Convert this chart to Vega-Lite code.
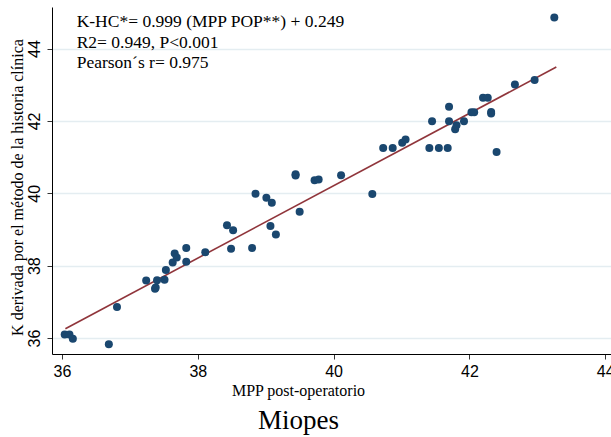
{
  "$schema": "https://vega.github.io/schema/vega-lite/v6.json",
  "width": 559,
  "height": 347,
  "autosize": {"type": "none"},
  "padding": {"left": 52, "top": 7, "right": 0, "bottom": 83},
  "background": "white",
  "title": {"text": "Miopes", "orient": "bottom", "font": "Liberation Serif", "fontSize": 27, "fontWeight": "normal", "color": "#000000", "anchor": "middle", "dx": -33, "offset": 10},
  "config": {"view": {"stroke": null}},
  "datasets": {
    "points": [
      {"mpp": 36.04, "k": 36.10}, {"mpp": 36.11, "k": 36.10}, {"mpp": 36.16, "k": 35.98},
      {"mpp": 36.69, "k": 35.83}, {"mpp": 36.81, "k": 36.86}, {"mpp": 37.24, "k": 37.59},
      {"mpp": 37.37, "k": 37.36}, {"mpp": 37.38, "k": 37.40}, {"mpp": 37.40, "k": 37.60},
      {"mpp": 37.51, "k": 37.61}, {"mpp": 37.53, "k": 37.88}, {"mpp": 37.63, "k": 38.09},
      {"mpp": 37.66, "k": 38.34}, {"mpp": 37.69, "k": 38.23}, {"mpp": 37.83, "k": 38.11},
      {"mpp": 37.83, "k": 38.49}, {"mpp": 38.11, "k": 38.37}, {"mpp": 38.43, "k": 39.12},
      {"mpp": 38.52, "k": 38.98}, {"mpp": 38.49, "k": 38.47}, {"mpp": 38.80, "k": 38.49},
      {"mpp": 38.85, "k": 39.99}, {"mpp": 39.01, "k": 39.88}, {"mpp": 39.09, "k": 39.74},
      {"mpp": 39.07, "k": 39.10}, {"mpp": 39.15, "k": 38.86}, {"mpp": 39.44, "k": 40.49},
      {"mpp": 39.44, "k": 40.53}, {"mpp": 39.50, "k": 39.49}, {"mpp": 39.72, "k": 40.36},
      {"mpp": 39.78, "k": 40.38}, {"mpp": 40.11, "k": 40.50}, {"mpp": 40.57, "k": 39.98},
      {"mpp": 40.73, "k": 41.25}, {"mpp": 40.87, "k": 41.25}, {"mpp": 41.01, "k": 41.40},
      {"mpp": 41.06, "k": 41.49}, {"mpp": 41.41, "k": 41.25}, {"mpp": 41.45, "k": 41.99},
      {"mpp": 41.55, "k": 41.25}, {"mpp": 41.68, "k": 41.25}, {"mpp": 41.70, "k": 42.39},
      {"mpp": 41.70, "k": 41.99}, {"mpp": 41.79, "k": 41.77}, {"mpp": 41.81, "k": 41.88},
      {"mpp": 41.92, "k": 41.99}, {"mpp": 42.03, "k": 42.24}, {"mpp": 42.07, "k": 42.24},
      {"mpp": 42.20, "k": 42.64}, {"mpp": 42.27, "k": 42.64}, {"mpp": 42.32, "k": 42.25},
      {"mpp": 42.32, "k": 42.21}, {"mpp": 42.40, "k": 41.14}, {"mpp": 42.67, "k": 43.01},
      {"mpp": 42.96, "k": 43.13}, {"mpp": 43.25, "k": 44.86}
    ],
    "fit": [
      {"mpp": 36.05, "k": 36.26},
      {"mpp": 43.28, "k": 43.49}
    ]
  },
  "layer": [
    {
      "data": {"name": "fit"},
      "mark": {"type": "line", "color": "#90353b", "strokeWidth": 1.6, "clip": true},
      "encoding": {
        "x": {
          "field": "mpp", "type": "quantitative",
          "scale": {"domain": [35.853, 44.085], "nice": false, "zero": false},
          "axis": {
            "values": [36, 38, 40, 42, 44], "format": "d", "grid": false,
            "domainColor": "#000000", "domainWidth": 1,
            "tickColor": "#333333", "tickSize": 5, "tickWidth": 1,
            "labelFont": "Liberation Sans", "labelFontSize": 16, "labelColor": "#000000",
            "labelPadding": 4, "labelFlush": false, "labelOverlap": false, "labelBound": false,
            "title": "MPP post-operatorio", "titleFont": "Liberation Serif", "titleFontSize": 16,
            "titleFontWeight": "normal", "titleColor": "#000000",
            "titleX": 246, "titleY": 41, "titleAlign": "center", "titleBaseline": "alphabetic"
          }
        },
        "y": {
          "field": "k", "type": "quantitative",
          "scale": {"domain": [35.56, 45.15], "nice": false, "zero": false},
          "axis": {
            "values": [36, 38, 40, 42, 44], "format": "d", "grid": true, "gridColor": "#e4edf1", "gridWidth": 1.6,
            "domainColor": "#000000", "domainWidth": 1,
            "tickColor": "#333333", "tickSize": 5, "tickWidth": 1,
            "labelFont": "Liberation Sans", "labelFontSize": 16, "labelColor": "#000000",
            "labelAngle": -90, "labelAlign": "center", "labelBaseline": "bottom",
            "labelPadding": 5, "labelFlush": false, "labelOverlap": false, "labelBound": false,
            "title": "K derivada por el método de la historia clínica", "titleFont": "Liberation Serif",
            "titleFontSize": 16, "titleFontWeight": "normal", "titleColor": "#000000",
            "titleAngle": -90, "titleX": -30, "titleY": 180, "titleAlign": "center", "titleBaseline": "alphabetic"
          }
        }
      }
    },
    {
      "data": {"name": "points"},
      "mark": {"type": "circle", "size": 64, "color": "#1a476f", "opacity": 1},
      "encoding": {
        "x": {"field": "mpp", "type": "quantitative"},
        "y": {"field": "k", "type": "quantitative"}
      }
    },
    {
      "data": {"values": [{}]},
      "mark": {
        "type": "text",
        "text": ["K-HC*= 0.999 (MPP POP**) + 0.249", "R2= 0.949, P<0.001", "Pearson´s r= 0.975"],
        "font": "Liberation Serif", "fontSize": 17.5, "color": "#000000",
        "align": "left", "baseline": "alphabetic", "lineHeight": 20.6
      },
      "encoding": {
        "x": {"datum": 36.216, "type": "quantitative"},
        "y": {"datum": 44.59, "type": "quantitative"}
      }
    }
  ]
}
